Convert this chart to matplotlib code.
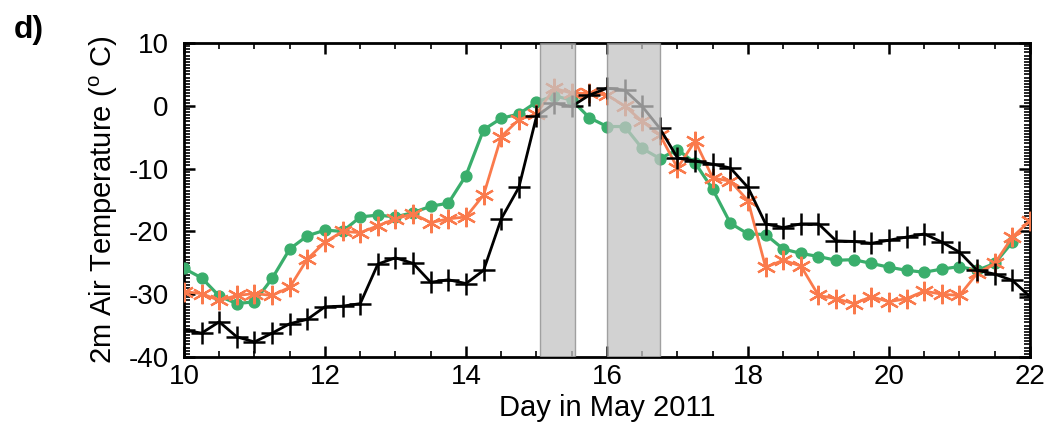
import numpy as np
import matplotlib.pyplot as plt
from matplotlib.ticker import MultipleLocator

plt.rcParams['font.family'] = ['Liberation Sans', 'DejaVu Sans']
plt.rcParams['mathtext.fontset'] = 'custom'
plt.rcParams['mathtext.rm'] = 'Liberation Sans'
plt.rcParams['mathtext.it'] = 'Liberation Sans'
plt.rcParams['axes.unicode_minus'] = False

# 6-hourly values, 10 - 22 May 2011
dias = np.arange(10, 22.01, 0.25)

temp_preta = [-35.7, -36.2, -34.4, -36.8, -37.6, -36.2, -34.7, -34.0, -32.0, -31.9,
              -31.5, -25.2, -24.2, -25.1, -28.1, -27.7, -28.3, -26.2, -18.0, -13.0,
              -1.7, 0.4, -0.1, 1.7, 2.8, 2.5, -0.1, -3.6, -8.3, -8.8,
              -9.3, -9.9, -13.0, -18.8, -19.4, -18.8, -18.8, -21.5, -21.6, -21.9,
              -21.4, -20.9, -20.4, -21.7, -23.3, -26.2, -26.8, -27.8, -30.4]

temp_laranja = [-29.6, -29.9, -31.0, -30.2, -29.9, -30.2, -28.9, -24.4, -21.7, -20.0,
                -20.2, -19.1, -18.0, -17.2, -18.6, -18.0, -17.7, -14.2, -4.9, -2.2,
                -1.3, 2.8, 2.0, 2.0, 1.7, 0.0, -2.5, -4.6, -9.9, -5.6,
                -11.5, -12.0, -15.1, -25.7, -24.6, -25.5, -30.2, -30.7, -31.5, -30.4,
                -31.2, -30.7, -29.5, -30.0, -30.2, -26.7, -25.1, -20.9, -18.3]

# verde termina em 21.75
temp_verde = [-25.9, -27.4, -30.3, -31.5, -31.2, -27.5, -22.8, -20.7, -19.8, -20.0,
              -17.7, -17.4, -17.7, -17.0, -16.0, -15.5, -11.1, -3.8, -2.0, -1.3,
              0.6, 1.6, 0.9, -1.9, -3.3, -3.3, -6.8, -8.4, -7.0, -9.1,
              -13.3, -18.7, -20.4, -20.5, -22.8, -23.5, -24.0, -24.6, -24.5, -25.1,
              -25.7, -26.2, -26.5, -26.0, -25.6, -26.2, -25.1, -21.7]

faixas = [(15.05, 15.55), (16.0, 16.75)]

fig = plt.figure(figsize=(10.55, 4.32), dpi=100)
ax = fig.add_axes([0.1744, 0.1736, 0.8019, 0.7269])

ax.plot(dias[:len(temp_verde)], temp_verde, '-o', color='#3aae6c', lw=2.3,
        ms=7.8, zorder=3)
ax.plot(dias, temp_laranja, '-', color='#fa7a4c', lw=2, marker=(6, 2, 0),
        ms=14, mew=1.6, zorder=4)
ax.plot(dias, temp_preta, '-+', color='black', lw=2, ms=16, mew=1.8, zorder=5)

for a, b in faixas:
    ax.axvspan(a, b, facecolor='#c4c4c4', edgecolor='#888888', lw=1,
               alpha=0.75, zorder=6)

ax.set_xlim(10, 22)
ax.set_ylim(-40, 10)
ax.xaxis.set_major_locator(MultipleLocator(2))
ax.xaxis.set_minor_locator(MultipleLocator(0.5))
ax.yaxis.set_major_locator(MultipleLocator(10))
ax.yaxis.set_minor_locator(MultipleLocator(0.5))
ax.tick_params(which='both', direction='in', top=True, right=True,
               labelsize=20, width=1.8)
ax.tick_params(which='major', length=8)
ax.tick_params(which='minor', length=4, width=1.2)
ax.tick_params(axis='x', which='major', pad=5)
ax.tick_params(axis='y', which='major', pad=11)
for s in ax.spines.values():
    s.set_linewidth(2)

ax.set_xlabel('Day in May 2011', fontsize=21, labelpad=3)
ax.set_ylabel(r'2m Air Temperature ($^{o}$ C)', fontsize=21, labelpad=6)

fig.text(0.013, 0.912, 'd)', fontsize=23, fontweight='bold')

fig.savefig('out.png', dpi=100)
